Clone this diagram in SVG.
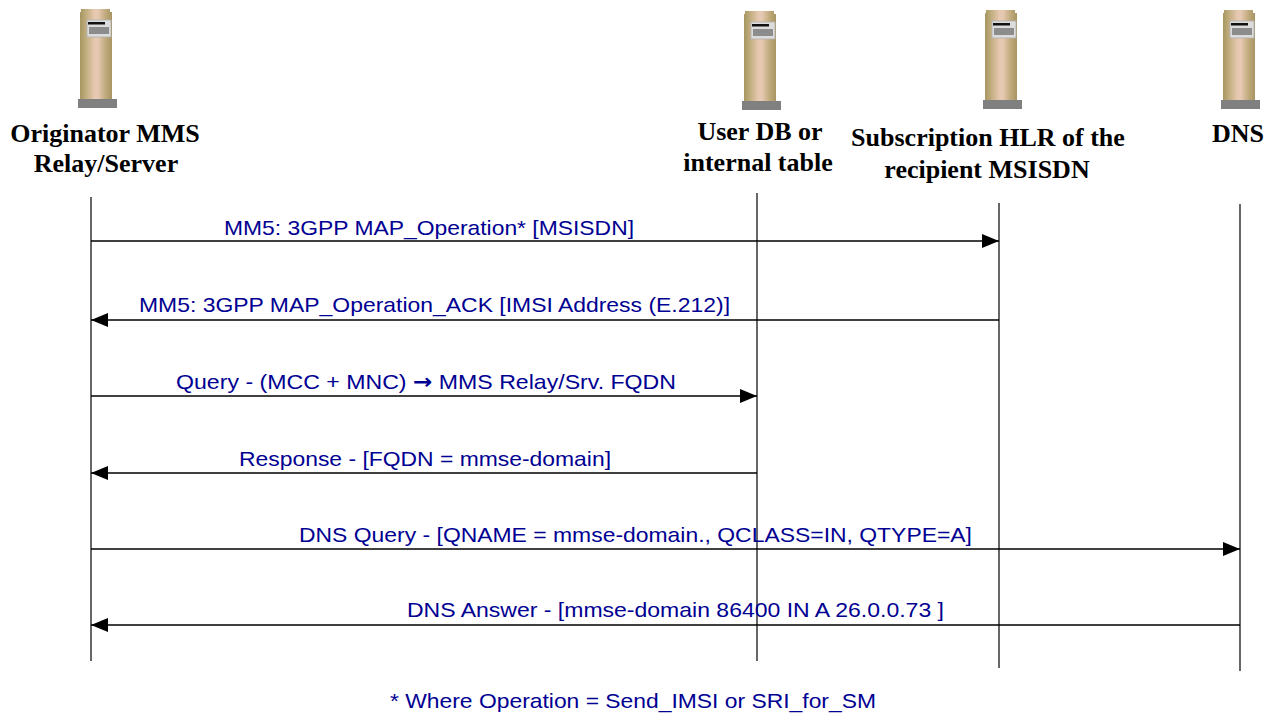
<svg xmlns="http://www.w3.org/2000/svg" width="1275" height="718" viewBox="0 0 1275 718">
<style>
.hdr{font-family:"Liberation Serif","Times New Roman",serif;font-weight:bold;font-size:26px;fill:#000;text-anchor:middle}
.lbl{font-family:"Liberation Sans",Arial,sans-serif;font-size:21px;fill:#000092}
.arr{font-family:"DejaVu Sans",sans-serif;font-weight:bold}
.life{stroke:#000;stroke-width:1.2;fill:none}
.msg{stroke:#000;stroke-width:1.6;fill:none}
</style>
<defs>
<linearGradient id="pillarGrad" x1="0" y1="0" x2="1" y2="0">
<stop offset="0" stop-color="#a69660"/>
<stop offset="0.2" stop-color="#c2ae80"/>
<stop offset="0.45" stop-color="#e6c8b0"/>
<stop offset="0.55" stop-color="#e8cab4"/>
<stop offset="0.8" stop-color="#c0aa7c"/>
<stop offset="1" stop-color="#a89462"/>
</linearGradient>
<g id="server">
<path d="M1,0 H30 V3 H32 V90 H0 V3 H1 Z" fill="url(#pillarGrad)"/>
<rect x="-2" y="90" width="39" height="9" fill="#808080"/>
<rect x="7" y="11" width="24" height="17" fill="#dcdcdc" stroke="#b0b0b0" stroke-width="0.8"/>
<rect x="8" y="13" width="17" height="2.5" fill="#111"/>
<rect x="9" y="18" width="20" height="7" fill="#8c8c8c"/>
</g>
<marker id="ah" markerWidth="17" markerHeight="14" refX="17" refY="7" orient="auto" markerUnits="userSpaceOnUse">
<path d="M0,0 L17,7 L0,14 Z" fill="#000"/>
</marker>
</defs>

<g id="node-originator">
<use href="#server" x="80" y="9"/>
<text class="hdr" x="105" y="142">Originator MMS</text>
<text class="hdr" x="106" y="172">Relay/Server</text>
</g>
<g id="node-userdb">
<use href="#server" x="744" y="11"/>
<text class="hdr" x="760" y="140">User DB or</text>
<text class="hdr" x="758" y="171">internal table</text>
</g>
<g id="node-hlr">
<use href="#server" x="985" y="10"/>
<text class="hdr" x="988" y="146">Subscription HLR of the</text>
<text class="hdr" x="987" y="178">recipient MSISDN</text>
</g>
<g id="node-dns">
<use href="#server" x="1223" y="10"/>
<text class="hdr" x="1238" y="142">DNS</text>
</g>

<g id="lifelines">
<line class="life" x1="91" y1="197" x2="91" y2="661"/>
<line class="life" x1="757" y1="193" x2="757" y2="661"/>
<line class="life" x1="999" y1="203" x2="999" y2="668"/>
<line class="life" x1="1240" y1="204" x2="1240" y2="671"/>
</g>

<g id="connectors">
<line class="msg" x1="91" y1="241" x2="999" y2="241" marker-end="url(#ah)"/>
<line class="msg" x1="999" y1="320" x2="91" y2="320" marker-end="url(#ah)"/>
<line class="msg" x1="91" y1="396" x2="757" y2="396" marker-end="url(#ah)"/>
<line class="msg" x1="757" y1="473" x2="91" y2="473" marker-end="url(#ah)"/>
<line class="msg" x1="91" y1="549" x2="1240" y2="549" marker-end="url(#ah)"/>
<line class="msg" x1="1240" y1="625" x2="91" y2="625" marker-end="url(#ah)"/>
</g>

<g id="labels">
<text class="lbl" x="224" y="235" textLength="410" lengthAdjust="spacingAndGlyphs">MM5: 3GPP MAP_Operation* [MSISDN]</text>
<text class="lbl" x="139" y="312" textLength="591" lengthAdjust="spacingAndGlyphs">MM5: 3GPP MAP_Operation_ACK [IMSI Address (E.212)]</text>
<text class="lbl" x="176" y="389" textLength="500" lengthAdjust="spacingAndGlyphs">Query - (MCC + MNC) <tspan class="arr">→</tspan> MMS Relay/Srv. FQDN</text>
<text class="lbl" x="239" y="466" textLength="372" lengthAdjust="spacingAndGlyphs">Response - [FQDN = mmse-domain]</text>
<text class="lbl" x="299" y="542" textLength="673" lengthAdjust="spacingAndGlyphs">DNS Query - [QNAME = mmse-domain., QCLASS=IN, QTYPE=A]</text>
<text class="lbl" x="407" y="617" textLength="537" lengthAdjust="spacingAndGlyphs">DNS Answer - [mmse-domain 86400 IN A 26.0.0.73 ]</text>
<text class="lbl" x="390" y="708" textLength="486" lengthAdjust="spacingAndGlyphs">* Where Operation = Send_IMSI or SRI_for_SM</text>
</g>
</svg>
